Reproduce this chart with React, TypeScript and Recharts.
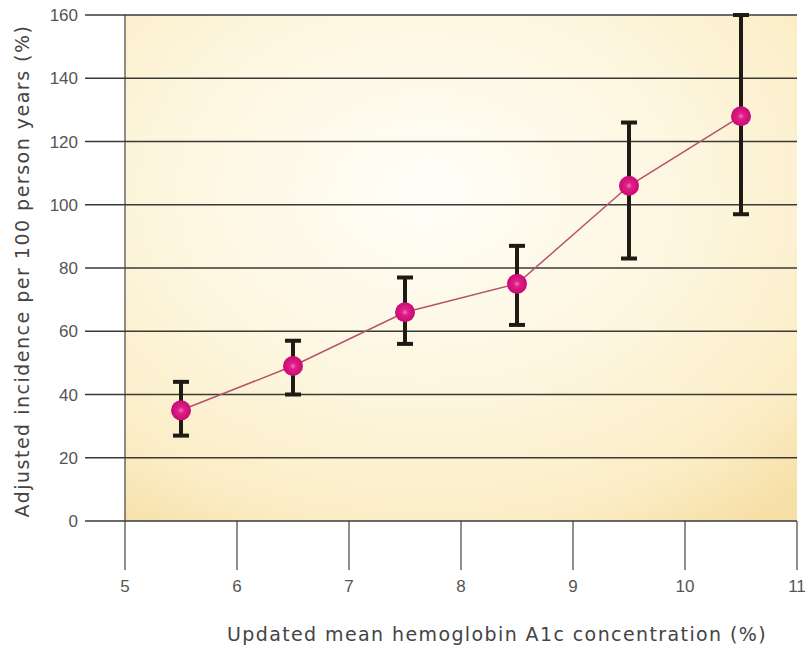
import React from "react";
import { ComposedChart, Line, XAxis, YAxis, CartesianGrid, ErrorBar } from "recharts";

const hba1c = [5.5, 6.5, 7.5, 8.5, 9.5, 10.5];
const incidence = [35, 49, 66, 75, 106, 128];
const lowerCI = [27, 40, 56, 62, 83, 97];
const upperCI = [44, 57, 77, 87, 126, 160];
const xTicks = [5, 6, 7, 8, 9, 10, 11];
const yTicks = [0, 20, 40, 60, 80, 100, 120, 140, 160];

const data = hba1c.map((x, i) => ({
  x,
  y: incidence[i],
  err: [incidence[i] - lowerCI[i], upperCI[i] - incidence[i]],
}));

const FONT = "'Liberation Sans', Arial, sans-serif";
const TITLE_FONT = "'DejaVu Sans', sans-serif";

const Dot = (props: any) => {
  const { cx, cy } = props;
  if (cx == null || cy == null) return null;
  return <circle cx={cx} cy={cy} r={10} fill="url(#dotGrad)" />;
};

const XTick = (props: any) => {
  const { x, y, payload } = props;
  return (
    <text x={x} y={y + 6} textAnchor="middle" fill="#555" fontSize={17} fontFamily={FONT}>
      {payload.value}
    </text>
  );
};

const YTick = (props: any) => {
  const { x, y, payload } = props;
  return (
    <text x={x} y={y + 6} textAnchor="end" fill="#555" fontSize={17} fontFamily={FONT}>
      {payload.value}
    </text>
  );
};

export default function App() {
  return (
    <div style={{ position: "absolute", left: 0, top: 0, width: 806, height: 653, background: "#fff", fontFamily: FONT }}>
      <ComposedChart width={806} height={653} data={data} margin={{ top: 15, right: 9, left: 0, bottom: 0 }}>
        <defs>
          <radialGradient id="bgGrad" cx="0.45" cy="0.35" r="0.8">
            <stop offset="0%" stopColor="#fffef8" />
            <stop offset="50%" stopColor="#fdf6de" />
            <stop offset="82%" stopColor="#fbedc6" />
            <stop offset="100%" stopColor="#f7e0a8" />
          </radialGradient>
          <radialGradient id="dotGrad" cx="0.5" cy="0.5" r="0.5">
            <stop offset="0%" stopColor="#f27cbb" />
            <stop offset="30%" stopColor="#e0208a" />
            <stop offset="100%" stopColor="#c80a72" />
          </radialGradient>
        </defs>
        <CartesianGrid vertical={false} stroke="#3a3a34" strokeWidth={1.3} fill="url(#bgGrad)" fillOpacity={1} />
        <XAxis
          type="number"
          dataKey="x"
          domain={[5, 11]}
          ticks={xTicks}
          allowDataOverflow
          height={132}
          axisLine={false}
          tickLine={{ stroke: "#444", strokeWidth: 1.2 }}
          tickSize={49}
          tickMargin={16}
          tick={<XTick />}
        />
        <YAxis
          type="number"
          domain={[0, 160]}
          ticks={yTicks}
          width={125}
          axisLine={{ stroke: "#444", strokeWidth: 1.2 }}
          tickLine={{ stroke: "#3a3a34", strokeWidth: 1.3 }}
          tickSize={40}
          tickMargin={7}
          tick={<YTick />}
        />
        <Line
          type="linear"
          dataKey="y"
          stroke="#b8506e"
          strokeWidth={1.5}
          dot={<Dot />}
          activeDot={false}
          isAnimationActive={false}
        >
          <ErrorBar dataKey="err" direction="y" width={8} strokeWidth={4} stroke="#1e1a14" />
        </Line>
      </ComposedChart>
      <div
        style={{
          position: "absolute",
          left: 22,
          top: 271,
          transform: "translate(-50%, -50%) rotate(-90deg)",
          whiteSpace: "nowrap",
          fontSize: 19,
          letterSpacing: 1.5,
          fontFamily: TITLE_FONT,
          color: "#444",
        }}
      >
        Adjusted incidence per 100 person years (%)
      </div>
      <div
        style={{
          position: "absolute",
          left: 497,
          top: 634,
          transform: "translate(-50%, -50%)",
          whiteSpace: "nowrap",
          fontSize: 19,
          letterSpacing: 1.4,
          fontFamily: TITLE_FONT,
          color: "#444",
        }}
      >
        Updated mean hemoglobin A1c concentration (%)
      </div>
    </div>
  );
}
